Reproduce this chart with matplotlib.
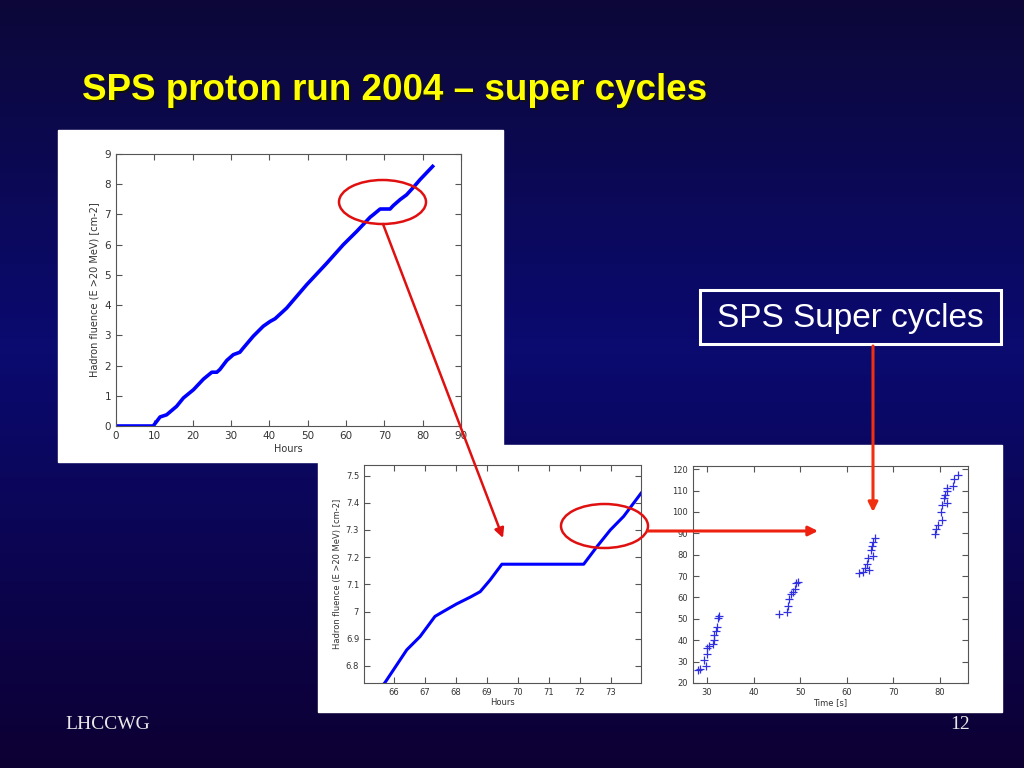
import matplotlib.pyplot as plt
import numpy as np
from matplotlib.patches import Rectangle, Ellipse
from matplotlib.ticker import FormatStrFormatter

# full run: hadron fluence vs hours
hours = [0, 9.7, 11.5, 13.2, 15.8, 17.6, 20.2, 22.8, 25.0, 26.3, 27.1, 28.9,
         30.6, 32.3, 33.2, 35.8, 38.4, 40.2, 41.5, 44.5, 49.7, 55.0, 59.3,
         62.8, 66.3, 67.1, 68.9, 71.5, 72.3, 74.1, 75.8, 77.6, 79.3, 82.6]
fluence = [0, 0, 0.3, 0.37, 0.65, 0.93, 1.2, 1.55, 1.78, 1.78, 1.87, 2.17,
           2.36, 2.44, 2.58, 2.97, 3.3, 3.46, 3.55, 3.9, 4.67, 5.39, 6.0,
           6.44, 6.91, 6.99, 7.18, 7.18, 7.29, 7.49, 7.65, 7.9, 8.15, 8.59]

# zoom on 65-74 h
zoom_hours = [65.5, 65.71, 66.41, 66.84, 67.32, 67.59, 68.02, 68.46, 68.78,
              69.10, 69.48, 72.12, 72.55, 72.98, 73.41, 73.97]
zoom_fluence = [6.71, 6.739, 6.859, 6.908, 6.982, 7.0, 7.028, 7.053, 7.073,
                7.116, 7.174, 7.174, 7.239, 7.30, 7.35, 7.435]

# super cycles: time [s] vs counts
cycle_time = [28.1, 28.5, 29.4, 29.7, 29.9, 30.1, 30.5, 31.2, 31.4, 31.6, 31.9,
              32.1, 32.4, 32.6,
              45.5, 47.1, 47.4, 47.7, 48.0, 48.5, 48.9, 49.2, 49.5,
              62.6, 63.4, 64.0, 64.3, 64.6, 64.8, 65.2, 65.5, 65.7, 66.1, 65.7,
              78.9, 79.1, 79.5, 80.1, 80.4, 80.5, 80.8, 81.1, 81.4, 81.6, 81.6,
              82.7, 82.9, 83.8]
cycle_value = [25.9, 26.4, 30.6, 27.8, 33.4, 36.4, 37.3, 38.4, 40.0, 42.3, 44.2,
               46.3, 50.2, 51.4,
               52.3, 53.3, 56.1, 59.2, 61.4, 62.7, 64.2, 66.6, 67.3,
               71.3, 72.0, 73.9, 75.6, 78.3, 72.8, 82.2, 84.2, 85.8, 88.0, 79.4,
               89.7, 92.0, 93.9, 99.8, 103.3, 96.1, 106.7, 108.0, 109.8, 111.1,
               104.1, 112.3, 115.5, 117.3]

W, H = 1024, 768
fig = plt.figure(figsize=(W / 100, H / 100), dpi=100)


def px_axes(x0, y0, x1, y1, **kw):
    # pixel box (top-left origin) -> figure axes
    return fig.add_axes([x0 / W, 1 - y1 / H, (x1 - x0) / W, (y1 - y0) / H], **kw)


# background gradient
bg = px_axes(0, 0, W, H, zorder=0)
t = np.linspace(0, 1, 256)
stops = np.array([[0.05, 0.03, 0.22], [0.04, 0.04, 0.44], [0.05, 0.0, 0.2]])
grad = np.empty((256, 1, 3))
for c in range(3):
    grad[:, 0, c] = np.interp(t, [0, 0.45, 1], stops[:, c])
bg.imshow(grad, aspect="auto", extent=[0, W, H, 0])
bg.set_xlim(0, W)
bg.set_ylim(H, 0)
bg.axis("off")
bg.add_patch(Rectangle((58, 130), 445, 332, color="white"))
bg.add_patch(Rectangle((318, 445), 684, 267, color="white"))


def matlab_style(ax, fs):
    for s in ax.spines.values():
        s.set_color("#555555")
        s.set_linewidth(0.8)
    ax.tick_params(direction="in", top=True, right=True, length=4,
                   labelsize=fs, colors="#555555", labelcolor="#333333")
    ax.set_facecolor("white")


ylab = "Hadron fluence (E >20 MeV) [cm-2]"

ax1 = px_axes(116, 154, 461, 426, zorder=2)
ax1.plot(hours, fluence, color="#0000ff", lw=2.6)
ax1.set_xlim(0, 90)
ax1.set_ylim(0, 9)
ax1.set_xticks(range(0, 91, 10))
ax1.set_yticks(range(0, 10))
ax1.set_xlabel("Hours", fontsize=7, color="#333333", labelpad=2)
ax1.set_ylabel(ylab, fontsize=7, color="#333333", labelpad=4)
matlab_style(ax1, 7.5)

ax2 = px_axes(364, 465, 641, 683, zorder=2)
ax2.plot(zoom_hours, zoom_fluence, color="#0000ff", lw=2.2)
ax2.set_xlim(65.03, 73.97)
ax2.set_ylim(6.737, 7.539)
ax2.set_xticks(range(66, 74))
ax2.set_yticks(np.arange(6.8, 7.55, 0.1))
ax2.yaxis.set_major_formatter(FormatStrFormatter("%g"))
ax2.set_xlabel("Hours", fontsize=6, color="#333333", labelpad=1)
ax2.set_ylabel(ylab, fontsize=6, color="#333333", labelpad=3)
matlab_style(ax2, 6)
ax2.set_yticklabels([f"{v:g}" for v in np.round(np.arange(6.8, 7.55, 0.1), 1)])

ax3 = px_axes(693, 466, 968, 683, zorder=2)
ax3.plot(cycle_time, cycle_value, "+", color="#3030e0", ms=6, mew=0.9)
ax3.set_xlim(27, 86)
ax3.set_ylim(20, 121.5)
ax3.set_xticks(range(30, 81, 10))
ax3.set_yticks(range(20, 121, 10))
ax3.set_xlabel("Time [s]", fontsize=6, color="#333333", labelpad=1)
matlab_style(ax3, 6)

# overlay: title, annotations, footer
ov = px_axes(0, 0, W, H, zorder=10)
ov.set_xlim(0, W)
ov.set_ylim(H, 0)
ov.axis("off")
ov.patch.set_alpha(0)

title = "SPS proton run 2004 \u2013 super cycles"
ov.text(84, 102, title, fontsize=26.5, fontweight="bold", color="#101010",
        family="Liberation Sans", va="baseline")
ov.text(82, 100, title, fontsize=26.5, fontweight="bold", color="#ffff00",
        family="Liberation Sans", va="baseline")

ov.add_patch(Rectangle((700, 290), 301, 54, fill=False, ec="white", lw=2.2))
ov.text(850, 318, "SPS Super cycles", fontsize=24, color="white",
        family="Liberation Sans", ha="center", va="center")

red = "#e01010"
ov.add_patch(Ellipse((382.5, 202), 87, 44, fill=False, ec=red, lw=1.8))
ov.add_patch(Ellipse((604.5, 526), 87, 44, fill=False, ec=red, lw=1.8))
ov.annotate("", xy=(503, 538), xytext=(383, 224),
            arrowprops=dict(arrowstyle="-|>", color=red, lw=1.8,
                            mutation_scale=14, shrinkA=0, shrinkB=0))
ov.annotate("", xy=(818, 531), xytext=(648, 531),
            arrowprops=dict(arrowstyle="-|>", color="#ee2010", lw=2.2,
                            mutation_scale=14, shrinkA=0, shrinkB=0))
ov.annotate("", xy=(873, 512), xytext=(873, 346),
            arrowprops=dict(arrowstyle="-|>", color="#f03010", lw=2.2,
                            mutation_scale=14, shrinkA=0, shrinkB=0))

ov.text(65, 729, "LHCCWG", fontsize=14, color="#e8e8e8",
        family="Liberation Serif", va="baseline")
ov.text(970, 729, "12", fontsize=14, color="#e8e8e8",
        family="Liberation Serif", va="baseline", ha="right")

fig.savefig("out.png", dpi=100)
